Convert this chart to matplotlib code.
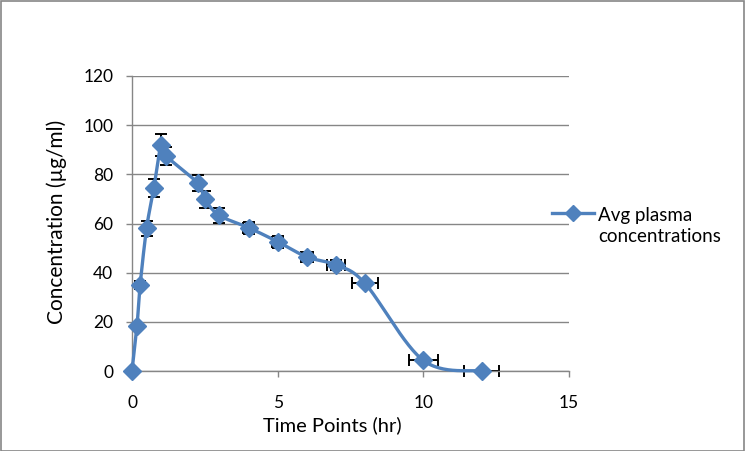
import numpy as np
import matplotlib
matplotlib.use("Agg")
import matplotlib.pyplot as plt
from matplotlib.patches import Rectangle
from matplotlib.lines import Line2D

plt.rcParams['font.family'] = ['Lato', 'DejaVu Sans']

# ---- data ----
time_hr = [0, 0.17, 0.28, 0.5, 0.75, 1.0, 1.17, 2.25, 2.5, 3, 4, 5, 6, 7, 8, 10, 12]
conc = [0, 18.2, 35, 58, 74.5, 92, 87.5, 76.5, 69.8, 63.3, 58.3, 52.6, 46.4, 43.1, 35.6, 4.3, 0]
conc_err = [0, 0, 1.5, 3, 3.8, 4.5, 3.8, 3.3, 3.3, 3, 2.5, 2.5, 2, 2, 1, 1, 0]
time_err = [0, 0, 0, 0, 0, 0, 0, 0, 0, 0, 0.2, 0.2, 0.2, 0.3, 0.45, 0.5, 0.6]
series_label = "Avg plasma\nconcentrations"
x_ticks = [0, 5, 10, 15]
y_ticks = [0, 20, 40, 60, 80, 100, 120]

blue = '#4F81BD'
grid_gray = '#868686'
W, H = 745, 451

fig = plt.figure(figsize=(W / 100, H / 100), dpi=100)
ax = fig.add_axes([132 / W, 80 / H, 437 / W, 295 / H])
ax.set_xlim(0, 15)
ax.set_ylim(0, 120)


def catmull_rom(xd, yd, sx, sy, n=30):
    # Excel-style smoothed line (Catmull-Rom through the data points), in scaled space
    P = np.column_stack([np.asarray(xd) * sx, np.asarray(yd) * sy])
    P = np.vstack([P[0], P, P[-1]])
    out = []
    for i in range(1, len(P) - 2):
        p0, p1, p2, p3 = P[i - 1], P[i], P[i + 1], P[i + 2]
        c1 = p1 + (p2 - p0) / 6.0
        c2 = p2 - (p3 - p1) / 6.0
        t = np.linspace(0, 1, n)[:, None]
        seg = ((1 - t) ** 3) * p1 + 3 * ((1 - t) ** 2) * t * c1 + 3 * (1 - t) * t ** 2 * c2 + t ** 3 * p2
        out.append(seg if i == 1 else seg[1:])
    out = np.vstack(out)
    return out[:, 0] / sx, out[:, 1] / sy

sx, sy = 437 / 15, 295 / 120
cx, cy = catmull_rom(time_hr, conc, sx, sy)
ax.plot(cx, cy, color=blue, lw=2.4, zorder=3, clip_on=False, solid_capstyle='round')

# error bars
t = np.array(time_hr); c = np.array(conc)
ye = np.array(conc_err); xe = np.array(time_err)
my = ye > 0
mx = xe > 0
ax.errorbar(t[my], c[my], yerr=ye[my], fmt='none', ecolor='black', elinewidth=1.4,
            capsize=4, capthick=1.4, zorder=2.5, clip_on=False)
ax.errorbar(t[mx], c[mx], xerr=xe[mx], fmt='none', ecolor='black', elinewidth=1.4,
            capsize=4, capthick=1.4, zorder=2.5, clip_on=False)
ax.plot(t, c, linestyle='none', marker='D', markersize=9.3, color=blue,
        zorder=4, clip_on=False)

# axes styling
for s in ['top', 'right']:
    ax.spines[s].set_visible(False)
for s in ['left', 'bottom']:
    ax.spines[s].set_color(grid_gray)
    ax.spines[s].set_linewidth(1.0)
ax.set_xticks(x_ticks)
ax.set_yticks(y_ticks)
ax.yaxis.grid(True, color=grid_gray, linewidth=1.0)
ax.set_axisbelow(True)
ax.tick_params(axis='both', direction='out', length=4.5, width=1.0, color=grid_gray,
               labelsize=12.5, labelcolor='black')
ax.tick_params(axis='x', pad=12.5)
ax.tick_params(axis='y', pad=9)

ax.set_xlabel('Time Points (hr)', fontsize=14.5)
ax.xaxis.set_label_coords((332 - 132) / 437, (371 - 425) / 295)
ax.xaxis.label.set_va('center')
ax.set_ylabel('Concentration (µg/ml)', fontsize=15)
ax.yaxis.set_label_coords((57 - 132) / 437, (371 - 222) / 295)
ax.yaxis.label.set_va('center')

# legend (drawn in figure pixels)
fig.add_artist(Line2D([552 / W, 594 / W], [1 - 213 / H, 1 - 213 / H], color=blue, lw=2.4,
                      transform=fig.transFigure))
fig.add_artist(Line2D([573 / W], [1 - 213 / H], color=blue, marker='D', markersize=8.5,
                      linestyle='none', transform=fig.transFigure))
fig.text(598 / W, 1 - 226 / H, series_label, fontsize=13.5, va='center', ha='left',
         linespacing=1.33)

# outer border
fig.patches.append(Rectangle((0.5 / W, 0.5 / H), 1 - 1.5 / W, 1 - 1.5 / H,
                             transform=fig.transFigure, fill=False,
                             edgecolor=grid_gray, linewidth=1.2))

fig.savefig('out.png', dpi=100)
